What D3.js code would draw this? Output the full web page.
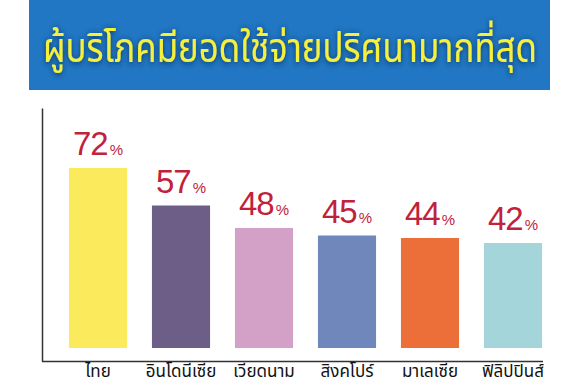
<!DOCTYPE html>
<html>
<head>
<meta charset="utf-8">
<script src="https://cdn.jsdelivr.net/npm/d3@7"></script>
<style>
  html, body { margin: 0; padding: 0; background: #ffffff; }
  svg { display: block; }
</style>
</head>
<body>
<svg id="chart" width="580" height="385"></svg>
<script>
const title = "ผู้บริโภคมียอดใช้จ่ายปริศนามากที่สุด";
const categories = ["ไทย", "อินโดนีเซีย", "เวียดนาม", "สิงคโปร์", "มาเลเซีย", "ฟิลิปปินส์"];
const values = [72, 57, 48, 45, 44, 42];
const colors = ["#FBEA5B", "#6C5E86", "#D3A0C8", "#6F87BA", "#EC6F3A", "#A3D5DA"];

const svg = d3.select("#chart");
const thaiFont = "'Noto Sans Thai', 'Noto Sans Thai Looped', 'Noto Sans', 'DejaVu Sans', sans-serif";

// defs: text shadow
const defs = svg.append("defs");
const f = defs.append("filter").attr("id", "glow").attr("x", "-10%").attr("y", "-30%").attr("width", "120%").attr("height", "160%");
f.append("feDropShadow").attr("dx", 0).attr("dy", 1).attr("stdDeviation", 2.5).attr("flood-color", "#0a2a55").attr("flood-opacity", 0.9);

// title banner
svg.append("rect").attr("x", 29).attr("y", 0).attr("width", 521).attr("height", 90).attr("fill", "#2177C3");
const t = svg.append("text")
  .attr("x", 290).attr("y", 0)
  .attr("transform", "translate(0,62) scale(1,1.18)")
  .attr("text-anchor", "middle")
  .attr("font-family", thaiFont)
  .attr("font-size", 40)
  .attr("fill", "#F4F03B")
  .attr("filter", "url(#glow)")
  .text(title);
// fit title width to ~494px
const tw = t.node().getComputedTextLength();
if (tw > 0) {
  const fs = Math.min(46, 40 * 494 / tw);
  t.attr("font-size", fs);
}

// scales
const x = d3.scaleBand().domain(categories).range([56.5, 554.5]).paddingInner(0.3).paddingOuter(0.15);
const y = d3.scaleLinear().domain([0, 100]).range([348, 98]);

// bars
svg.append("g").selectAll("rect").data(values).join("rect")
  .attr("x", (d, i) => x(categories[i]))
  .attr("y", d => y(d))
  .attr("width", x.bandwidth())
  .attr("height", d => y(0) - y(d))
  .attr("fill", (d, i) => colors[i]);

// value labels
const lbl = svg.append("g").selectAll("text").data(values).join("text")
  .attr("x", (d, i) => x(categories[i]) + x.bandwidth() / 2)
  .attr("y", d => y(d) - 13)
  .attr("text-anchor", "middle")
  .attr("font-family", "'Liberation Sans', Arial, sans-serif")
  .attr("fill", "#C1223B");
lbl.append("tspan").attr("font-size", 33).attr("letter-spacing", -1).text(d => d);
lbl.append("tspan").attr("font-size", 15).attr("dx", 2).text("%");

// axes lines
const axisG = svg.append("g");
const yAxis = d3.axisLeft(d3.scaleLinear().domain([0, 1]).range([361, 108])).tickValues([]).tickSizeOuter(0);
axisG.append("g").attr("transform", "translate(42,0)").call(yAxis)
  .select(".domain").attr("stroke", "#333").attr("stroke-width", 1.5);
const xAxis = d3.axisBottom(x).tickSize(0).tickSizeOuter(0).tickPadding(0);
const xg = axisG.append("g").attr("transform", "translate(0,361)").call(xAxis);
xg.select(".domain").attr("d", "M42,0.5H543").attr("stroke", "#333").attr("stroke-width", 1.5);
xg.selectAll(".tick text")
  .attr("y", 16)
  .attr("dy", 0)
  .attr("font-family", thaiFont)
  .attr("font-size", 17)
  .attr("fill", "#111");
</script>
</body>
</html>
